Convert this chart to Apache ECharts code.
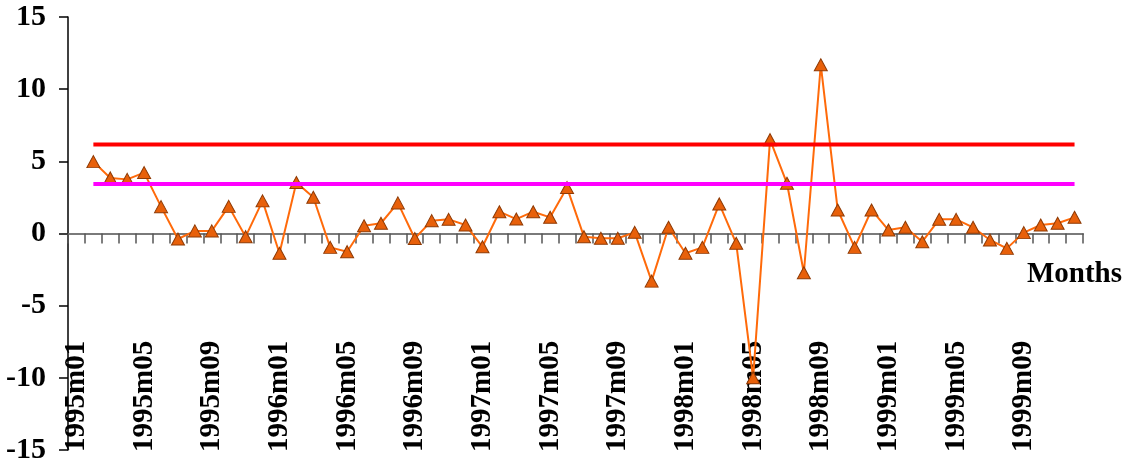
<!DOCTYPE html>
<html>
<head>
<meta charset="utf-8">
<script src="https://cdn.jsdelivr.net/npm/echarts@6/dist/echarts.min.js"></script>
<style>
  html, body { margin: 0; padding: 0; background: #ffffff; }
  #chart { width: 1132px; height: 466px; }
</style>
</head>
<body>
<div id="chart"></div>
<script>
// ---- data ----
const years = ['1995', '1996', '1997', '1998', '1999'];
const monthCodes = ['01','02','03','04','05','06','07','08','09','10','11','12'];
const categories = [];
years.forEach(y => monthCodes.forEach(m => categories.push(y + 'm' + m)));

// monthly values (1995m01 has no value)
const values = [
  null, 4.98, 3.85, 3.75, 4.22, 1.86, -0.38, 0.18, 0.18, 1.88, -0.22, 2.26,
  -1.37, 3.53, 2.51, -0.96, -1.26, 0.54, 0.71, 2.12, -0.35, 0.89, 0.98, 0.59,
  -0.92, 1.51, 1.0, 1.51, 1.12, 3.18, -0.22, -0.33, -0.33, 0.08, -3.3, 0.43,
  -1.37, -0.96, 2.05, -0.68, -10.0, 6.5, 3.48, -2.72, 11.69, 1.63, -0.96, 1.63,
  0.24, 0.43, -0.57, 0.98, 0.98, 0.43, -0.45, -1.03, 0.06, 0.59, 0.71, 1.12
];

const upperBand = 6.16;   // red line
const lowerBand = 3.43;   // magenta line

const yTicks = { min: -15, max: 15, interval: 5 };
const xAxisTitle = 'Months';

// threshold lines over the same months as the data
const upperLine = values.map(v => v === null ? null : upperBand);
const lowerLine = values.map(v => v === null ? null : lowerBand);

const serif = '"Liberation Serif", "Times New Roman", serif';

const chart = echarts.init(document.getElementById('chart'), null, { renderer: 'canvas' });
chart.setOption({
  animation: false,
  backgroundColor: '#ffffff',
  title: {
    text: xAxisTitle,
    right: 5,
    top: 255,
    textStyle: { fontFamily: serif, fontWeight: 'bold', fontSize: 29, color: '#000' }
  },
  grid: { left: 68, right: 49, top: 17, bottom: 16, containLabel: false },
  xAxis: [
    {
      type: 'category',
      data: categories,
      boundaryGap: true,
      position: 'bottom',
      axisLine: { onZero: true, lineStyle: { color: '#7a7a7a', width: 2 } },
      axisTick: { show: true, interval: 0, length: 10, lineStyle: { color: '#555', width: 1.5 } },
      axisLabel: { show: false },
      splitLine: { show: false }
    },
    {
      type: 'category',
      data: categories,
      boundaryGap: true,
      position: 'bottom',
      axisLine: { show: false, onZero: false },
      axisTick: { show: false },
      axisLabel: {
        show: true,
        inside: true,
        rotate: 90,
        interval: 3,
        margin: -2,
        fontFamily: serif,
        fontWeight: 'bold',
        fontSize: 29,
        color: '#000'
      },
      splitLine: { show: false }
    }
  ],
  yAxis: {
    type: 'value',
    min: yTicks.min,
    max: yTicks.max,
    interval: yTicks.interval,
    axisLine: { show: true, lineStyle: { color: '#000', width: 1.5 } },
    axisTick: { show: true, length: 9, lineStyle: { color: '#000', width: 1.5 } },
    axisLabel: {
      margin: 22,
      fontFamily: serif,
      fontWeight: 'bold',
      fontSize: 30,
      color: '#000'
    },
    splitLine: { show: false }
  },
  series: [
    {
      name: 'values',
      type: 'line',
      xAxisIndex: 0,
      data: values,
      connectNulls: false,
      symbol: 'triangle',
      symbolSize: [13, 12],
      showAllSymbol: true,
      lineStyle: { color: '#FF6A0A', width: 2 },
      itemStyle: { color: '#E8600A', borderColor: '#8E3A05', borderWidth: 1 },
      z: 3
    },
    {
      name: 'upper',
      type: 'line',
      xAxisIndex: 0,
      data: upperLine,
      symbol: 'none',
      silent: true,
      lineStyle: { color: '#FF0000', width: 4 },
      z: 4
    },
    {
      name: 'lower',
      type: 'line',
      xAxisIndex: 0,
      data: lowerLine,
      symbol: 'none',
      silent: true,
      lineStyle: { color: '#FF00FF', width: 4 },
      z: 4
    }
  ]
});
</script>
</body>
</html>
